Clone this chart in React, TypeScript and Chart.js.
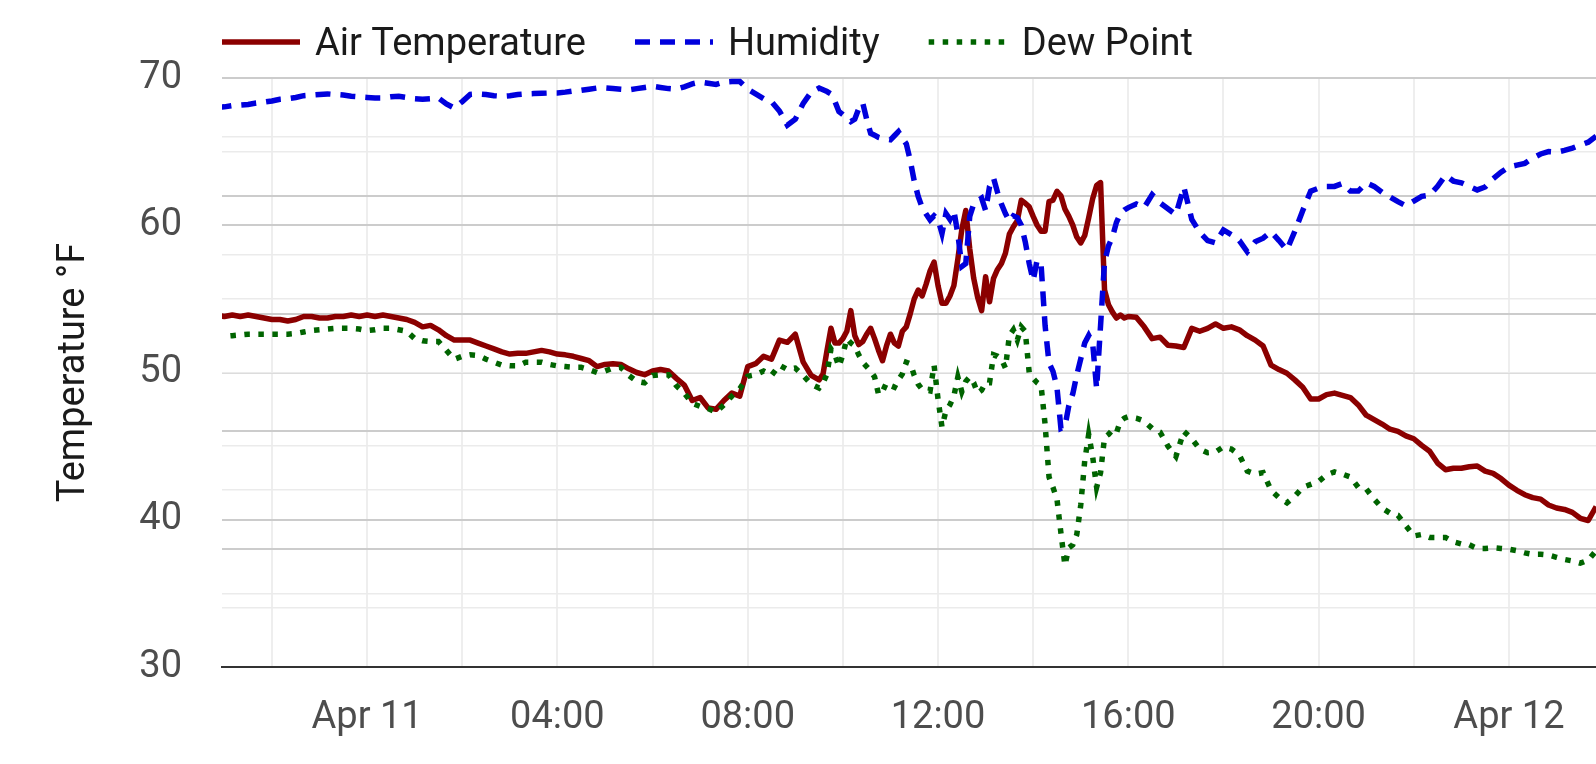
import { useEffect, useRef } from 'react';
import { Chart, registerables } from 'chart.js';

Chart.register(...registerables);

// Sample times, minutes from Apr 11 00:00
const sampleMinutes = [
  -190,
  -180, -170, -160, -150, -140, -130,
  -120, -110, -100, -90, -80, -70,
  -60, -50, -40, -30, -20, -10,
  0, 10, 20, 30, 40, 50,
  60, 70, 80, 90, 100, 110,
  120, 130, 140, 150, 160, 170,
  180, 190, 200, 210, 220, 230,
  240, 250, 260, 270, 280, 290,
  300, 310, 320, 330, 340, 350,
  360, 370, 380, 390, 400, 410,
  420, 430, 440, 450, 460, 470,
  480, 490, 500, 510, 520, 530,
  540, 550, 560, 570, 575, 580, 585, 590, 595,
  600, 605, 610, 615, 620, 625, 630, 635, 640, 645, 650, 655,
  660, 665, 670, 675, 680, 685, 690, 695, 700, 705, 710, 715,
  720, 725, 730, 735, 740, 745, 750, 755, 760, 765, 770, 775,
  780, 785, 790, 795, 800, 805, 810, 815, 820, 825, 830, 835,
  840, 845, 850, 855, 860, 865, 870, 875, 880, 885, 890, 895,
  900, 905, 910, 915, 920, 925, 930, 935, 940, 945, 950, 955,
  960, 970, 980, 990, 1000, 1010,
  1020, 1030, 1040, 1050, 1060, 1070,
  1080, 1090, 1100, 1110, 1120, 1130,
  1140, 1150, 1160, 1170, 1180, 1190,
  1200, 1210, 1220, 1230, 1240, 1250,
  1260, 1270, 1280, 1290, 1300, 1310,
  1320, 1330, 1340, 1350, 1360, 1370,
  1380, 1390, 1400, 1410, 1420, 1430,
  1440, 1450, 1460, 1470, 1480, 1490,
  1500, 1510, 1520, 1530, 1540, 1550,
  1560,
];

// Air temperature, °F
const airTemp = [
  53.9,
  53.8, 53.9, 53.8, 53.9, 53.8, 53.7,
  53.6, 53.6, 53.5, 53.6, 53.8, 53.8,
  53.7, 53.7, 53.8, 53.8, 53.9, 53.8,
  53.9, 53.8, 53.9, 53.8, 53.7, 53.6,
  53.4, 53.1, 53.2, 52.9, 52.5, 52.2,
  52.2, 52.2, 52.0, 51.8, 51.6, 51.4,
  51.25, 51.3, 51.3, 51.4, 51.5, 51.4,
  51.25, 51.2, 51.1, 50.95, 50.8, 50.4,
  50.55, 50.6, 50.55, 50.25, 50.0, 49.85,
  50.1, 50.2, 50.1, 49.6, 49.15, 48.1,
  48.3, 47.6, 47.5, 48.1, 48.6, 48.4,
  50.4, 50.6, 51.1, 50.9, 52.2, 52.05,
  52.6, 50.7, 49.8, 49.5, 49.9, 51.5, 53.0, 52.0, 52.0,
  52.3, 52.8, 54.2, 52.5, 51.9, 52.1, 52.6, 53.0, 52.3, 51.5, 50.8, 51.8,
  52.6, 52.0, 51.8, 52.8, 53.1, 54.0, 55.0, 55.6, 55.2, 56.0, 56.9, 57.5,
  55.9, 54.7, 54.7, 55.2, 55.9, 57.7, 59.7, 61.0, 58.4, 56.4, 55.1, 54.2,
  56.5, 54.8, 56.4, 57.0, 57.4, 58.1, 59.4, 59.9, 60.3, 61.7, 61.5, 61.25,
  60.6, 60.0, 59.6, 59.6, 61.6, 61.7, 62.3, 62.0, 61.1, 60.6, 60.0, 59.2,
  58.8, 59.3, 60.5, 61.8, 62.7, 62.9, 55.6, 54.6, 54.1, 53.7, 53.9, 53.7,
  53.8, 53.75, 53.1, 52.3, 52.4, 51.85,
  51.8, 51.7, 53.0, 52.8, 53.0, 53.3,
  53.0, 53.1, 52.9, 52.5, 52.2, 51.8,
  50.5, 50.2, 49.95, 49.5, 49.0, 48.2,
  48.2, 48.5, 48.6, 48.45, 48.3, 47.8,
  47.1, 46.8, 46.5, 46.15, 46.0, 45.7,
  45.5, 45.05, 44.65, 43.85, 43.4, 43.5,
  43.5, 43.6, 43.65, 43.3, 43.15, 42.8,
  42.35, 42.0, 41.7, 41.5, 41.4, 41.0,
  40.8, 40.7, 40.5, 40.1, 39.95, 40.9,
  41.5,
];

// Relative humidity, %
const humidity = [
  95.0,
  95.1, 95.3, 95.4, 95.5, 95.75, 95.9,
  96.1, 96.4, 96.5, 96.7, 97.0, 97.1,
  97.2, 97.3, 97.2, 97.1, 96.9, 96.8,
  96.7, 96.6, 96.6, 96.8, 96.9, 96.7,
  96.5, 96.4, 96.5, 96.6, 95.6, 94.9,
  96.0, 97.2, 97.3, 97.2, 97.0, 96.9,
  97.0, 97.2, 97.3, 97.35, 97.4, 97.45,
  97.45, 97.6, 97.8, 97.9, 98.1, 98.3,
  98.3, 98.2, 98.1, 98.0, 98.2, 98.4,
  98.6, 98.4, 98.2, 98.1, 98.5, 99.0,
  99.3, 99.1, 98.9, 99.3, 99.4, 99.4,
  98.1, 97.3, 96.5, 96.0, 94.4, 92.0,
  93.0, 95.7, 97.6, 98.3, 98.0, 97.7, 97.3, 96.0, 94.3,
  93.8, 93.2, 92.6, 93.0, 94.8, 95.8, 93.0, 90.6, 90.3, 89.9, 89.7, 89.6,
  89.5, 90.2, 90.9, 89.8, 88.8, 86.0, 82.5, 79.9, 78.0, 76.9, 75.9, 76.6,
  76.0, 73.6, 77.0, 76.0, 77.5, 73.5, 68.0, 68.5, 76.5, 78.6, 79.1, 79.6,
  77.5, 81.6, 83.0, 80.6, 78.6, 77.0, 75.7, 76.6, 76.3, 75.0, 72.2, 68.5,
  65.6, 69.1, 68.3, 58.0, 51.6, 50.2, 47.5, 40.5, 40.8, 44.4, 46.4, 49.6,
  52.3, 55.0, 56.3, 55.0, 47.3, 58.0, 68.8, 71.5, 73.0, 75.5, 77.0, 77.6,
  78.0, 78.6, 78.0, 80.2, 78.8, 77.8,
  76.8, 81.5, 76.0, 73.8, 72.4, 72.0,
  74.2, 73.4, 72.4, 70.5, 72.2, 72.8,
  73.9, 72.4, 70.8, 74.0, 77.5, 80.8,
  81.3, 81.6, 81.6, 82.1, 80.8, 80.8,
  82.2, 81.6, 80.6, 79.8, 79.0, 78.3,
  79.1, 79.9, 80.1, 81.6, 83.5, 82.5,
  82.2, 81.6, 81.0, 81.5, 82.9, 84.0,
  84.9, 85.2, 85.5, 86.4, 87.1, 87.5,
  87.4, 87.7, 88.1, 88.6, 89.1, 90.1,
  90.6,
];

// Dew point, °F
const dewPoint = [
  52.45,
  52.45, 52.5, 52.55, 52.6, 52.6, 52.6,
  52.6, 52.6, 52.6, 52.65, 52.75, 52.85,
  52.9, 52.95, 53.0, 53.0, 53.0, 52.95,
  52.85, 52.9, 53.0, 53.0, 52.9, 52.8,
  52.3, 52.15, 52.1, 52.1, 51.5, 50.9,
  51.1, 51.2, 51.15, 50.9, 50.7, 50.5,
  50.45, 50.45, 50.7, 50.7, 50.7, 50.55,
  50.45, 50.4, 50.35, 50.35, 50.2, 50.0,
  50.1, 50.3, 50.35, 49.8, 49.4, 49.3,
  49.8, 49.85, 49.85, 49.1, 48.6, 47.9,
  47.7, 47.55, 47.3, 47.8, 48.4, 48.9,
  49.75, 49.85, 50.1, 49.8, 50.5, 50.2,
  50.3, 49.8, 49.2, 48.95, 49.3, 49.9, 51.6, 51.2, 50.4,
  51.2, 52.3, 52.0, 51.8, 51.2, 50.7, 50.4, 50.1, 49.7, 48.5, 48.7, 49.3,
  49.1, 49.0, 49.5, 49.9, 50.7, 50.6, 49.8, 49.2, 48.85, 48.8, 48.75, 50.5,
  48.2, 46.3, 47.4, 47.8, 48.4, 49.7, 48.7, 49.4, 49.7, 49.3, 48.6, 48.8,
  49.3, 49.3, 51.2, 51.1, 50.9, 50.3, 52.5, 52.9, 52.2, 53.1, 52.8, 50.0,
  49.6, 49.3, 49.1, 46.5, 42.9, 42.2, 41.4, 39.1, 36.9, 38.1, 38.3, 39.0,
  41.0, 44.0, 45.8, 44.3, 42.2, 43.2, 45.6, 45.8, 46.1, 45.9, 46.7, 46.9,
  47.0, 46.9, 46.7, 46.2, 45.95, 45.0,
  44.3, 46.0, 45.5, 44.8, 44.55, 44.6,
  44.95, 44.8, 44.4, 43.3, 43.1, 43.2,
  42.0, 41.5, 41.15, 41.6, 42.2, 42.4,
  42.6, 43.05, 43.25, 43.1, 42.9, 42.2,
  42.1, 41.4, 40.8, 40.45, 40.3, 39.6,
  38.9, 39.0, 38.8, 38.8, 38.8, 38.5,
  38.35, 38.3, 38.05, 38.05, 38.1, 38.05,
  38.0, 37.9, 37.75, 37.65, 37.65, 37.6,
  37.45, 37.3, 37.2, 37.05, 37.25, 37.9,
  38.4,
];

const seriesNames = ['Air Temperature', 'Humidity', 'Dew Point'];

// Axis ticks
const xGridHours = [-2, 0, 2, 4, 6, 8, 10, 12, 14, 16, 18, 20, 22, 24];
const xLabelHours = [0, 4, 8, 12, 16, 20, 24];
const xLabelTexts = ['Apr 11', '04:00', '08:00', '12:00', '16:00', '20:00', 'Apr 12'];
const tempGridTicks = [30, 35, 40, 45, 50, 55, 60, 65, 70];
const tempLabelTicks = [30, 40, 50, 60, 70];
const humidityGridTicks = [0, 10, 20, 30, 40, 50, 60, 70, 80, 90, 100];

const FONT = 'Roboto';

const legendPlugin = {
  id: 'plotLegend',
  afterDraw(chart: any) {
    const ctx = chart.ctx;
    ctx.save();
    ctx.font = `38px ${FONT}`;
    ctx.textBaseline = 'middle';
    ctx.textAlign = 'left';
    let x = chart.chartArea.left;
    const y = 42;
    const sample = 78;
    chart.data.datasets.forEach((ds: any) => {
      ctx.beginPath();
      ctx.setLineDash(ds.borderDash || []);
      ctx.lineCap = 'butt';
      ctx.strokeStyle = ds.borderColor;
      ctx.lineWidth = ds.borderWidth;
      ctx.moveTo(x, y);
      ctx.lineTo(x + sample, y);
      ctx.stroke();
      ctx.setLineDash([]);
      ctx.fillStyle = '#1a1a1a';
      ctx.fillText(ds.label, x + sample + 15, y + 3);
      x += sample + 15 + ctx.measureText(ds.label).width + 49;
    });
    ctx.restore();
  },
};

export default function App() {
  const ref = useRef<HTMLCanvasElement>(null);

  useEffect(() => {
    const canvas = ref.current;
    if (!canvas) return;
    const toPoints = (vals: number[]) => vals.map((v, i) => ({ x: sampleMinutes[i] / 60, y: v }));
    const transparent = 'rgba(0,0,0,0)';

    const chart = new Chart(canvas, {
      type: 'line',
      data: {
        datasets: [
          {
            label: seriesNames[0],
            data: toPoints(airTemp),
            yAxisID: 'y',
            borderColor: '#8b0000',
            borderWidth: 5.5,
            borderJoinStyle: 'round',
            pointRadius: 0,
            tension: 0,
            order: 3,
          },
          {
            label: seriesNames[1],
            data: toPoints(humidity),
            yAxisID: 'y1',
            borderColor: '#0000dd',
            borderWidth: 5.5,
            borderDash: [15, 10],
            pointRadius: 0,
            tension: 0,
            order: 2,
          },
          {
            label: seriesNames[2],
            data: toPoints(dewPoint),
            yAxisID: 'y',
            borderColor: '#006400',
            borderWidth: 5.5,
            borderDash: [5.5, 8.5],
            pointRadius: 0,
            tension: 0,
            order: 1,
          },
        ] as any,
      },
      options: {
        animation: false,
        responsive: false,
        events: [],
        layout: { padding: { top: 78, left: 0, right: 0, bottom: 0 } },
        plugins: {
          legend: { display: false },
          tooltip: { enabled: false },
        },
        scales: {
          x: {
            type: 'linear',
            min: -3.05,
            max: 25.83,
            afterBuildTicks: (s: any) => {
              s.ticks = xGridHours.map((v) => ({ value: v }));
            },
            afterFit: (s: any) => {
              s.height = 97;
            },
            grid: { color: '#eeeeee', lineWidth: 2, drawTicks: false },
            border: { display: true, color: '#333333', width: 2 },
            ticks: {
              autoSkip: false,
              maxRotation: 0,
              padding: 29,
              color: '#4d4d4d',
              font: { family: FONT, size: 38 },
              callback: (v: any) => {
                const i = xLabelHours.indexOf(Number(v));
                return i >= 0 ? xLabelTexts[i] : '';
              },
            },
          },
          y: {
            type: 'linear',
            position: 'left',
            min: 30,
            max: 70,
            afterBuildTicks: (s: any) => {
              s.ticks = tempGridTicks.map((v) => ({ value: v }));
            },
            afterFit: (s: any) => {
              s.width = 222;
            },
            grid: {
              drawTicks: false,
              color: (c: any) => {
                const v = c.tick ? c.tick.value : 0;
                if (v === 30) return transparent;
                return tempLabelTicks.includes(v) ? '#cccccc' : '#ebebeb';
              },
              lineWidth: (c: any) => (c.tick && tempLabelTicks.includes(c.tick.value) ? 2 : 1.6),
            },
            border: { display: false },
            ticks: {
              padding: 40,
              color: '#4d4d4d',
              font: { family: FONT, size: 38 },
              callback: (v: any) => (tempLabelTicks.includes(Number(v)) ? String(v) : ''),
            },
            title: {
              display: true,
              text: 'Temperature °F',
              color: '#1a1a1a',
              font: { family: FONT, size: 38 },
              padding: { top: 52, bottom: 0 },
            },
          },
          y1: {
            type: 'linear',
            position: 'right',
            min: 0,
            max: 100,
            afterBuildTicks: (s: any) => {
              s.ticks = humidityGridTicks.map((v) => ({ value: v }));
            },
            afterFit: (s: any) => {
              s.width = 0;
            },
            grid: {
              drawTicks: false,
              color: (c: any) => {
                const v = c.tick ? c.tick.value : 0;
                if (v === 0 || v === 100) return transparent;
                return v % 20 === 0 ? '#cccccc' : '#ebebeb';
              },
              lineWidth: (c: any) => (c.tick && c.tick.value % 20 === 0 ? 2 : 1.6),
            },
            border: { display: false },
            ticks: { display: false },
          },
        },
      } as any,
      plugins: [legendPlugin],
    });

    return () => chart.destroy();
  }, []);

  return (
    <div style={{ position: 'fixed', left: 0, top: 0, width: 1596, height: 764, background: '#ffffff' }}>
      <canvas ref={ref} width={1596} height={764} style={{ display: 'block', width: 1596, height: 764 }} />
    </div>
  );
}
